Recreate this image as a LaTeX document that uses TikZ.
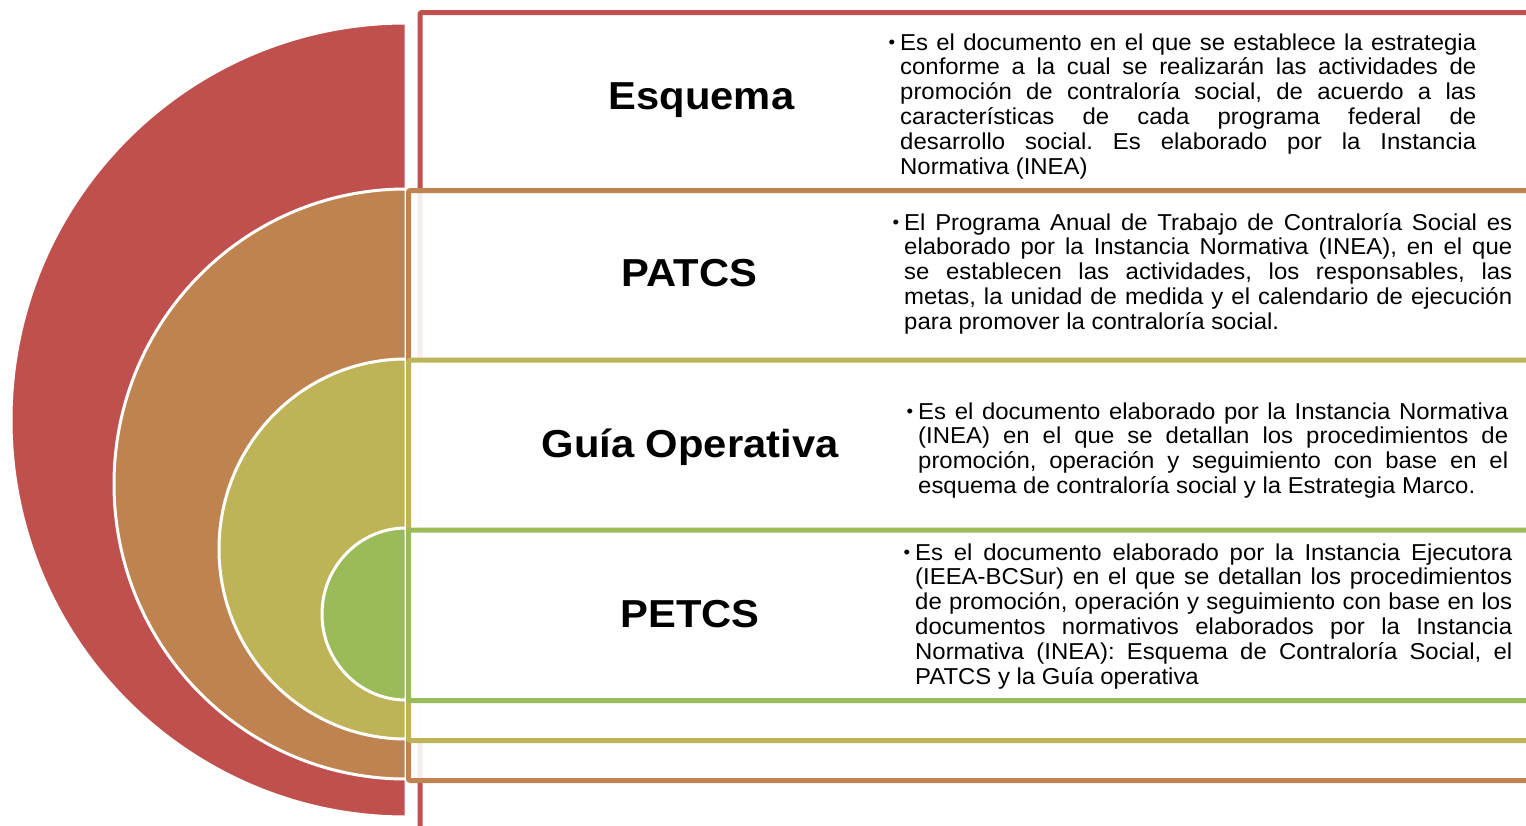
\documentclass[tikz,border=0pt]{standalone}
\usepackage{fontspec}
\setmainfont{Liberation Sans}
\newfontfamily\bodyf{Liberation Sans}[FakeStretch=1.04]
\newfontfamily\headf{Liberation Sans}[FakeStretch=1.07]
\definecolor{cRed}{HTML}{C0504D}
\definecolor{cBrown}{HTML}{BF834F}
\definecolor{cOlive}{HTML}{BFB357}
\definecolor{cGreen}{HTML}{9BBB59}
\frenchspacing
\newcommand\jline[1]{\hbox to\hsize{#1}}
\newcommand\fline[1]{\hbox{#1}}
\newcommand\bul{\llap{\raisebox{1.5pt}{\fontsize{18}{18}\selectfont •}\hspace{5pt}}}
\tikzset{
  halfdisc/.style={draw=white, line width=3pt},
  framebox/.style={line width=5pt, fill=white, fill opacity=0.9, rounded corners=2pt},
  head/.style={font=\headf\bfseries\fontsize{39}{39}\selectfont, inner sep=0pt, anchor=base},
  desc/.style={inner sep=0pt, anchor=base west, font=\bodyf\fontsize{23}{24.8}\selectfont\frenchspacing}
}
\begin{document}
\begin{tikzpicture}[x=1pt,y=-1pt]
\useasboundingbox (0,0) rectangle (1526,825);
\clip (0,0) rectangle (1526,825);
% half discs
\filldraw[halfdisc, fill=cRed] (406,817) arc[start angle=90,end angle=270,x radius=395,y radius=397] -- cycle;
\filldraw[halfdisc, fill=cBrown] (406,779) arc[start angle=90,end angle=270,x radius=292,y radius=295] -- cycle;
\filldraw[halfdisc, fill=cOlive] (406,739) arc[start angle=90,end angle=270,x radius=187,y radius=190] -- cycle;
\filldraw[halfdisc, fill=cGreen] (406,700) arc[start angle=90,end angle=270,x radius=84,y radius=86] -- cycle;
% frames
\draw[framebox, draw=cRed] (420,12.5) rectangle (1545,845);
\draw[framebox, draw=cBrown] (408.5,190.5) rectangle (1545,780.5);
\draw[framebox, draw=cOlive] (408.5,360) rectangle (1545,740.5);
\draw[framebox, draw=cGreen] (408.5,530) rectangle (1545,700.5);
% headings
\node[head] (h1) at (701.5,109) {Esquema};
\node[head] (h2) at (689.5,286) {PATCS};
\node[head] (h3) at (690,457) {Guía Operativa};
\node[head] (h4) at (690,627) {PETCS};
% descriptions
\node[desc] (d1) at (900,50) {\vtop{\hsize=576pt
\jline{\bul Es el documento en el que se establece la estrategia}
\jline{conforme a la cual se realizarán las actividades de}
\jline{promoción de contraloría social, de acuerdo a las}
\jline{características de cada programa federal de}
\jline{desarrollo social. Es elaborado por la Instancia}
\fline{Normativa (INEA)}}};
\node[desc] (d2) at (904,230) {\vtop{\hsize=608pt
\jline{\bul El Programa Anual de Trabajo de Contraloría Social es}
\jline{elaborado por la Instancia Normativa (INEA), en el que}
\jline{se establecen las actividades, los responsables, las}
\jline{metas, la unidad de medida y el calendario de ejecución}
\fline{para promover la contraloría social.}}};
\node[desc] (d3) at (918,419) {\vtop{\hsize=590pt
\jline{\bul Es el documento elaborado por la Instancia Normativa}
\jline{(INEA) en el que se detallan los procedimientos de}
\jline{promoción, operación y seguimiento con base en el}
\fline{esquema de contraloría social y la Estrategia Marco.}}};
\node[desc] (d4) at (915,560) {\vtop{\hsize=597pt
\jline{\bul Es el documento elaborado por la Instancia Ejecutora}
\jline{(IEEA-BCSur) en el que se detallan los procedimientos}
\jline{de promoción, operación y seguimiento con base en los}
\jline{documentos normativos elaborados por la Instancia}
\jline{Normativa (INEA): Esquema de Contraloría Social, el}
\fline{PATCS y la Guía operativa}}};
\end{tikzpicture}
\end{document}
